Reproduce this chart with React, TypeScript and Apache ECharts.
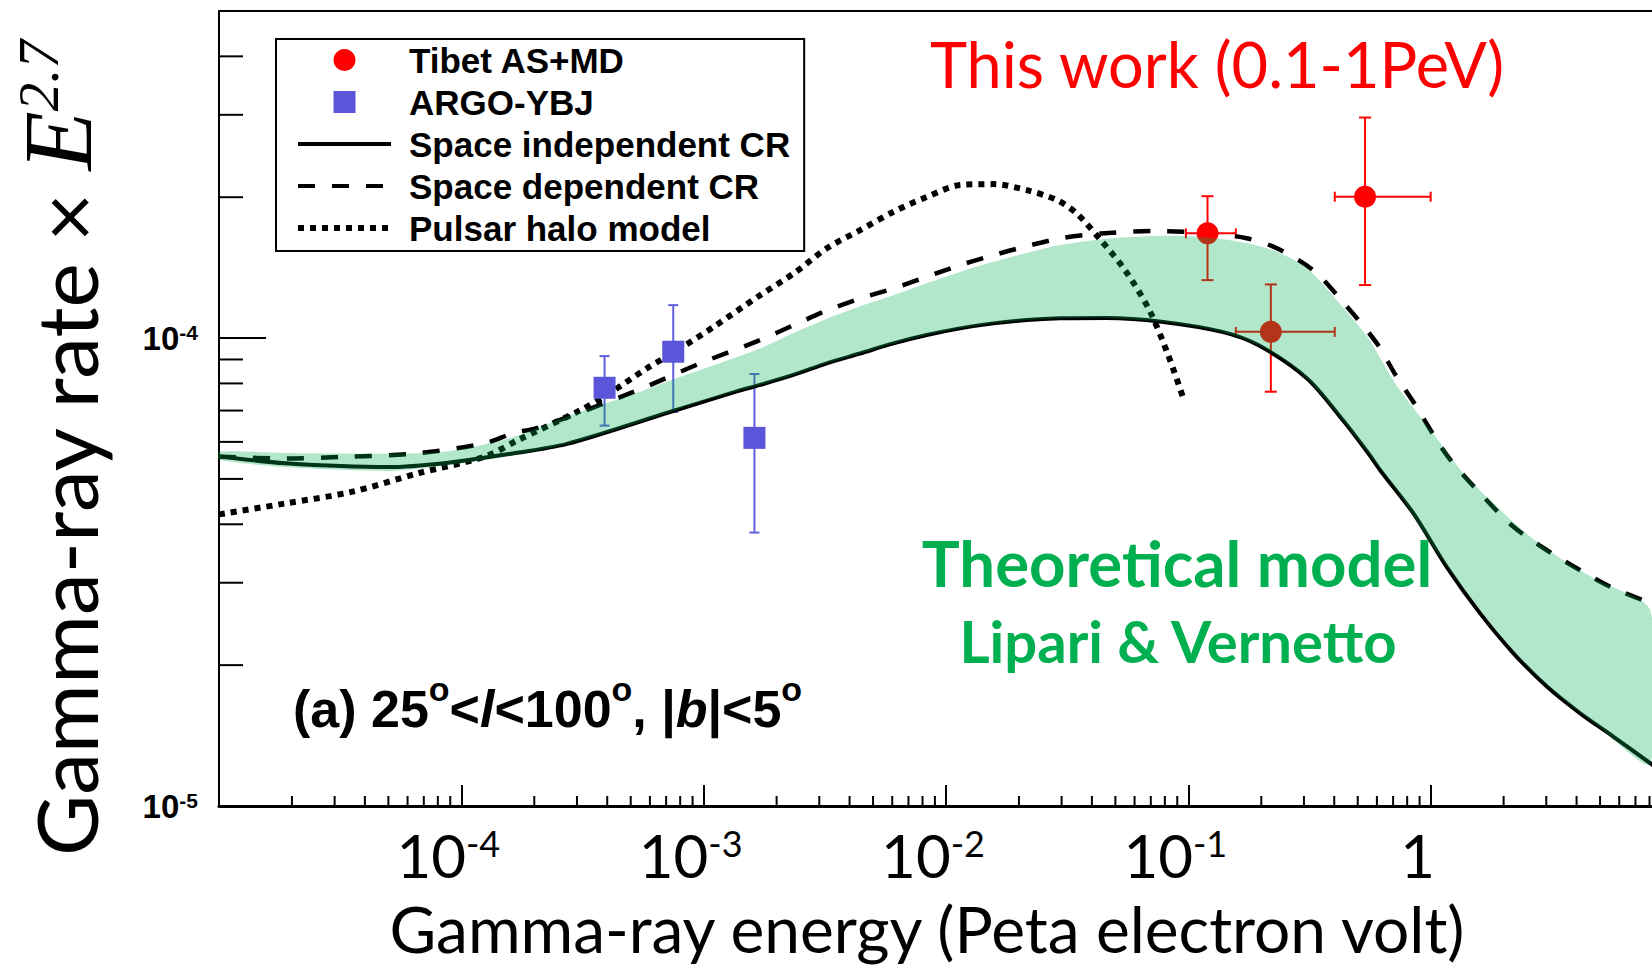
import React, { useEffect, useRef } from "react";
import * as echarts from "echarts";

// ---------------- Axis structure ----------------
const X_MIN = 1e-5;
const X_MAX = 10;
const Y_MIN = 1e-5;
const Y_MAX = 5e-4;
const xTickExponents = [-4, -3, -2, -1, 0];
const yTickExponents = [-5, -4];
const xDecades = [1e-5, 1e-4, 1e-3, 1e-2, 1e-1, 1];
const yDecades = [1e-5, 1e-4];
const minorMultipliers = [2, 3, 4, 5, 6, 7, 8, 9];

// ---------------- Data points ----------------
// Tibet AS+MD (this work)
const tibetE = [0.12, 0.219, 0.536];
const tibetR = [1.674e-4, 1.031e-4, 2.005e-4];
const tibetRLow = [1.33e-4, 7.68e-5, 1.298e-4];
const tibetRHigh = [2.01e-4, 1.302e-4, 2.96e-4];
const tibetELow = [0.0977, 0.157, 0.402];
const tibetEHigh = [0.157, 0.402, 1.0];

// ARGO-YBJ
const argoE = [3.9e-4, 7.49e-4, 1.62e-3];
const argoR = [7.83e-5, 9.35e-5, 6.12e-5];
const argoRLow = [6.5e-5, 6.95e-5, 3.84e-5];
const argoRHigh = [9.15e-5, 1.176e-4, 8.38e-5];

// Space independent CR (solid)
const indepE = [1e-5, 1.88e-5, 5.0e-5, 8.65e-5, 1.57e-4, 2.73e-4, 7.26e-4, 1.38e-3, 1.709e-3, 2.345e-3, 3.221e-3, 4.42e-3, 6.07e-3, 8.33e-3, 1.143e-2, 1.569e-2, 2.155e-2, 2.958e-2, 4.58e-2, 7.73e-2, 0.138, 0.195, 0.309, 0.437, 0.552, 0.619, 0.849, 1.166, 1.6, 2.197, 3.017, 4.14, 5.68, 8.3];
const indepR = [5.59e-5, 5.40e-5, 5.30e-5, 5.41e-5, 5.65e-5, 5.94e-5, 6.95e-5, 7.7e-5, 7.94e-5, 8.34e-5, 8.83e-5, 9.27e-5, 9.74e-5, 1.015e-4, 1.049e-4, 1.075e-4, 1.093e-4, 1.102e-4, 1.104e-4, 1.084e-4, 1.031e-4, 9.65e-5, 8.2e-5, 6.65e-5, 5.68e-5, 5.22e-5, 4.22e-5, 3.24e-5, 2.58e-5, 2.12e-5, 1.80e-5, 1.578e-5, 1.406e-5, 1.22e-5];

// Space dependent CR (dashed)
const depE = [1e-5, 1.88e-5, 3.5e-5, 6.6e-5, 1.25e-4, 1.66e-4, 2.03e-4, 5.16e-4, 9.66e-4, 1.709e-3, 2.345e-3, 3.221e-3, 4.42e-3, 6.07e-3, 8.33e-3, 1.143e-2, 1.569e-2, 2.155e-2, 2.958e-2, 4.36e-2, 7.33e-2, 0.123, 0.174, 0.232, 0.327, 0.437, 0.6, 0.72, 0.849, 1.166, 1.6, 2.197, 3.017, 4.14, 5.68, 8.3];
const depR = [5.58e-5, 5.53e-5, 5.58e-5, 5.67e-5, 5.96e-5, 6.28e-5, 6.41e-5, 7.68e-5, 8.83e-5, 9.9e-5, 1.065e-4, 1.145e-4, 1.215e-4, 1.277e-4, 1.352e-4, 1.432e-4, 1.504e-4, 1.572e-4, 1.633e-4, 1.673e-4, 1.693e-4, 1.675e-4, 1.634e-4, 1.556e-4, 1.397e-4, 1.19e-4, 9.74e-5, 8.3e-5, 7.3e-5, 5.62e-5, 4.66e-5, 3.95e-5, 3.52e-5, 3.19e-5, 2.92e-5, 2.7e-5];

// Pulsar halo model (dotted)
const haloE = [1e-5, 1.87e-5, 3.52e-5, 6.63e-5, 1.25e-4, 1.71e-4, 3.08e-4, 3.9e-4, 5.82e-4, 8.0e-4, 1.1e-3, 1.71e-3, 2.35e-3, 3.22e-3, 4.42e-3, 6.07e-3, 8.33e-3, 1.14e-2, 1.57e-2, 2.16e-2, 2.87e-2, 3.46e-2, 4.36e-2, 5.48e-2, 6.9e-2, 8.21e-2, 9.49e-2];
const haloR = [4.2e-5, 4.43e-5, 4.69e-5, 5.14e-5, 5.58e-5, 6.05e-5, 7.0e-5, 7.5e-5, 8.61e-5, 9.5e-5, 1.057e-4, 1.235e-4, 1.374e-4, 1.555e-4, 1.701e-4, 1.862e-4, 2.003e-4, 2.123e-4, 2.133e-4, 2.07e-4, 1.972e-4, 1.847e-4, 1.618e-4, 1.397e-4, 1.148e-4, 9.27e-5, 7.49e-5];

// Theoretical model band (Lipari & Vernetto)
const bandE = [1e-5, 1.88e-5, 5.0e-5, 8.65e-5, 1.57e-4, 2.73e-4, 5.16e-4, 7.26e-4, 1.0e-3, 1.709e-3, 2.345e-3, 3.221e-3, 4.42e-3, 6.07e-3, 8.33e-3, 1.143e-2, 1.569e-2, 2.155e-2, 2.958e-2, 4.58e-2, 7.73e-2, 0.123, 0.174, 0.232, 0.309, 0.437, 0.552, 0.72, 1.0, 1.366, 1.877, 2.575, 3.53, 4.85, 8.05];
const bandUpper = [5.72e-5, 5.68e-5, 5.66e-5, 5.72e-5, 6.1e-5, 6.8e-5, 7.6e-5, 8.12e-5, 8.6e-5, 9.5e-5, 1.025e-4, 1.1e-4, 1.17e-4, 1.235e-4, 1.31e-4, 1.385e-4, 1.455e-4, 1.52e-4, 1.58e-4, 1.63e-4, 1.655e-4, 1.64e-4, 1.594e-4, 1.529e-4, 1.41e-4, 1.16e-4, 1.0e-4, 7.95e-5, 6.36e-5, 5.14e-5, 4.36e-5, 3.76e-5, 3.35e-5, 3.04e-5, 2.62e-5];
const bandLower = [5.5e-5, 5.3e-5, 5.2e-5, 5.35e-5, 5.6e-5, 5.94e-5, 6.55e-5, 6.95e-5, 7.35e-5, 7.94e-5, 8.34e-5, 8.83e-5, 9.27e-5, 9.74e-5, 1.015e-4, 1.049e-4, 1.075e-4, 1.093e-4, 1.102e-4, 1.104e-4, 1.084e-4, 1.045e-4, 9.9e-5, 9.2e-5, 8.2e-5, 6.65e-5, 5.68e-5, 4.75e-5, 3.65e-5, 2.92e-5, 2.36e-5, 1.96e-5, 1.69e-5, 1.49e-5, 1.233e-5];

const legendNames = ["Tibet AS+MD", "ARGO-YBJ", "Space independent CR", "Space dependent CR", "Pulsar halo model"];

// ---------------- helpers ----------------
const decadeExp = (v: number, allowed: number[]) => {
  const l = Math.log10(v);
  const e = Math.round(l);
  if (Math.abs(l - e) > 0.01) return null;
  return allowed.indexOf(e) >= 0 ? e : null;
};

const xMinor = xDecades.flatMap((d) => minorMultipliers.map((m) => m * d)).filter((v) => v < 8.5);
const yMinor = yDecades.flatMap((d) => minorMultipliers.map((m) => m * d)).filter((v) => v < Y_MAX);

const SANS_BOLD = '"Liberation Sans", Arial, Helvetica, sans-serif';
const CAL = 'Lato, "Open Sans", sans-serif';
const SERIF = '"Liberation Serif", "DejaVu Serif", serif';

const DASHED = [17, 17];
const DOTTED = [6, 6];

function errorBarRenderer(color: string, cap: number, hCap: number) {
  return (params: any, api: any) => {
    const x = api.value(0);
    const y = api.value(1);
    const yl = api.value(2);
    const yh = api.value(3);
    const c = api.coord([x, y]);
    const top = api.coord([x, yh]);
    const bot = api.coord([x, yl]);
    const style = { stroke: color, lineWidth: 2 };
    const children: any[] = [
      { type: "line", shape: { x1: c[0], y1: top[1], x2: c[0], y2: bot[1] }, style },
      { type: "line", shape: { x1: c[0] - cap, y1: top[1], x2: c[0] + cap, y2: top[1] }, style },
      { type: "line", shape: { x1: c[0] - cap, y1: bot[1], x2: c[0] + cap, y2: bot[1] }, style },
    ];
    const xl = api.value(4);
    const xh = api.value(5);
    if (xl > 0 && xh > 0) {
      const l = api.coord([xl, y]);
      const r = api.coord([xh, y]);
      children.push(
        { type: "line", shape: { x1: l[0], y1: c[1], x2: r[0], y2: c[1] }, style },
        { type: "line", shape: { x1: l[0], y1: c[1] - hCap, x2: l[0], y2: c[1] + hCap }, style },
        { type: "line", shape: { x1: r[0], y1: c[1] - hCap, x2: r[0], y2: c[1] + hCap }, style }
      );
    }
    return { type: "group", children };
  };
}

function buildOption() {
  return {
    animation: false,
    backgroundColor: "#ffffff",
    grid: {
      left: 219,
      right: -21,
      top: 11,
      bottom: 162,
      show: true,
      borderColor: "#000",
      borderWidth: 2,
      containLabel: false,
      outerBoundsMode: "none",
    },
    legend: {
      show: true,
      orient: "vertical",
      left: 276,
      top: 39,
      padding: [3.5, 14, 5.5, 19],
      itemGap: 7,
      itemWidth: 93,
      itemHeight: 22,
      borderColor: "#000",
      borderWidth: 2,
      backgroundColor: "#fff",
      selectedMode: false,
      z: 10,
      lineStyle: { width: 4 },
      textStyle: {
        fontFamily: SANS_BOLD,
        fontWeight: "bold",
        fontSize: 35,
        color: "#000",
        padding: [0, 0, 0, 13],
      },
      data: legendNames.map((n, i) => {
        if (i < 2) return { name: n };
        return {
          name: n,
          itemStyle: { opacity: 0, borderWidth: 0 },
          lineStyle: { width: i === 4 ? 6 : 4 },
        };
      }),
    },
    xAxis: {
      type: "log",
      logBase: 10,
      min: X_MIN,
      max: X_MAX,
      axisLine: { show: true, onZero: false, lineStyle: { color: "#000", width: 3 } },
      axisTick: { show: true, inside: true, length: 21, lineStyle: { color: "#000", width: 2 } },
      minorTick: { show: false },
      splitLine: { show: false },
      axisLabel: {
        show: true,
        margin: 19,
        color: "#000",
        hideOverlap: false,
        padding: [0, 26, 0, 0],
        formatter: (v: number) => {
          const e = decadeExp(v, xTickExponents);
          if (e === null) return "";
          if (e === 0) return "{n|1}";
          return `{n|10}{s|${e}}`;
        },
        rich: {
          n: { fontFamily: CAL, fontSize: 60, lineHeight: 60, color: "#000" },
          s: { fontFamily: CAL, fontSize: 36, lineHeight: 40, color: "#000", verticalAlign: "top" },
        },
      },
      name: "Gamma-ray energy (Peta electron volt)",
      nameLocation: "middle",
      nameGap: 90,
      nameMoveOverlap: false,
      nameTextStyle: { fontFamily: CAL, fontSize: 64, lineHeight: 64, color: "#000", padding: [0, 38, 0, 0] },
    },
    yAxis: {
      type: "log",
      logBase: 10,
      min: Y_MIN,
      max: Y_MAX,
      axisLine: { show: true, onZero: false, lineStyle: { color: "#000", width: 2 } },
      axisTick: { show: true, inside: true, length: 47, lineStyle: { color: "#000", width: 2 } },
      minorTick: { show: false },
      splitLine: { show: false },
      axisLabel: {
        show: true,
        margin: 21,
        color: "#000",
        hideOverlap: false,
        formatter: (v: number) => {
          const e = decadeExp(v, yTickExponents);
          if (e === null) return "";
          return `{n|10}{s|${e}}`;
        },
        rich: {
          n: { fontFamily: SANS_BOLD, fontWeight: "bold", fontSize: 33, lineHeight: 33, color: "#000" },
          s: { fontFamily: SANS_BOLD, fontWeight: "bold", fontSize: 21, lineHeight: 20, color: "#000", verticalAlign: "top" },
        },
      },
      name: "{a|Gamma-ray rate × }{e|E}{s|2.7}",
      nameLocation: "middle",
      nameRotate: 90,
      nameGap: 112,
      nameMoveOverlap: false,
      nameTextStyle: {
        color: "#000",
        padding: [0, 80, 0, 0],
        rich: {
          a: { fontFamily: CAL, fontSize: 84, lineHeight: 97, color: "#000", verticalAlign: "bottom" },
          e: { fontFamily: SERIF, fontStyle: "italic", fontSize: 97, lineHeight: 97, color: "#000", verticalAlign: "bottom" },
          s: { fontFamily: SERIF, fontStyle: "italic", fontSize: 57, lineHeight: 57, color: "#000", verticalAlign: "top" },
        },
      },
    },
    series: [
      {
        name: "Tibet AS+MD",
        type: "scatter",
        data: tibetE.map((e, i) => [e, tibetR[i]]),
        symbol: "circle",
        symbolSize: 22,
        itemStyle: { color: "#ff0000", opacity: 1 },
        z: 2,
      },
      {
        name: "ARGO-YBJ",
        type: "scatter",
        data: argoE.map((e, i) => [e, argoR[i]]),
        symbol: "path://M0 0H10V10H0Z",
        symbolSize: 22,
        itemStyle: { color: "#5a55d9", opacity: 1 },
        z: 2,
      },
      {
        name: "Space independent CR",
        type: "line",
        data: indepE.map((e, i) => [e, indepR[i]]),
        symbol: "none",
        smooth: 0.3,
        lineStyle: { color: "#000", width: 4, type: "solid" },
        itemStyle: { color: "#000" },
        z: 2,
      },
      {
        name: "Space dependent CR",
        type: "line",
        data: depE.map((e, i) => [e, depR[i]]),
        symbol: "none",
        smooth: 0.3,
        lineStyle: { color: "#000", width: 4.5, type: DASHED },
        itemStyle: { color: "#000" },
        z: 2,
      },
      {
        name: "Pulsar halo model",
        type: "line",
        data: haloE.map((e, i) => [e, haloR[i]]),
        symbol: "none",
        smooth: 0.3,
        lineStyle: { color: "#000", width: 6, type: DOTTED },
        itemStyle: { color: "#000" },
        z: 2,
      },
      {
        name: "Tibet errors",
        type: "custom",
        silent: true,
        z: 2,
        data: tibetE.map((e, i) => [e, tibetR[i], tibetRLow[i], tibetRHigh[i], tibetELow[i], tibetEHigh[i]]),
        renderItem: errorBarRenderer("#ff0000", 6, 5),
      },
      {
        name: "ARGO errors",
        type: "custom",
        silent: true,
        z: 2,
        data: argoE.map((e, i) => [e, argoR[i], argoRLow[i], argoRHigh[i], 0, 0]),
        renderItem: errorBarRenderer("#5f5fdc", 5, 0),
      },
      {
        name: "Theoretical band",
        type: "custom",
        silent: true,
        z: 3,
        data: [[bandE[0], bandLower[0]]],
        renderItem: (params: any, api: any) => {
          const up = bandE.map((e, i) => api.coord([e, bandUpper[i]]));
          const lo = bandE.map((e, i) => api.coord([e, bandLower[i]])).reverse();
          return {
            type: "polygon",
            shape: { points: up.concat(lo), smooth: 0.25 },
            style: { fill: "rgba(0,175,84,0.3)", stroke: "none" },
          };
        },
      },
      {
        name: "x minor ticks",
        type: "custom",
        silent: true,
        z: 4,
        data: xMinor.map((v) => [v, Y_MIN]),
        renderItem: (params: any, api: any) => {
          const p = api.coord([api.value(0), api.value(1)]);
          return { type: "line", shape: { x1: p[0], y1: p[1], x2: p[0], y2: p[1] - 10 }, style: { stroke: "#000", lineWidth: 2 } };
        },
      },
      {
        name: "y minor ticks",
        type: "custom",
        silent: true,
        z: 4,
        data: yMinor.map((v) => [X_MIN, v]),
        renderItem: (params: any, api: any) => {
          const p = api.coord([api.value(0), api.value(1)]);
          return { type: "line", shape: { x1: p[0], y1: p[1], x2: p[0] + 24, y2: p[1] }, style: { stroke: "#000", lineWidth: 2 } };
        },
      },
    ],
    graphic: [
      {
        type: "text",
        x: 1217,
        y: 63,
        z: 20,
        style: { text: "This work (0.1-1PeV)", fontFamily: CAL, fontSize: 63, fill: "#ff0000", align: "center", verticalAlign: "middle" },
      },
      {
        type: "text",
        x: 1177,
        y: 562,
        z: 20,
        style: { text: "Theoretical model", fontFamily: CAL, fontWeight: "bold", fontSize: 63.5, fill: "#00b050", align: "center", verticalAlign: "middle" },
      },
      {
        type: "text",
        x: 1178,
        y: 640,
        z: 20,
        style: { text: "Lipari & Vernetto", fontFamily: CAL, fontWeight: "bold", fontSize: 58, fill: "#00b050", align: "center", verticalAlign: "middle" },
      },
      {
        type: "text",
        x: 293,
        y: 683,
        z: 20,
        style: {
          text: "{t|(a) 25}{o|o}{t|<}{i|l}{t|<100}{o|o}{t|, |}{i|b}{t||<5}{o|o}",
          align: "left",
          verticalAlign: "top",
          rich: {
            t: { fontFamily: SANS_BOLD, fontWeight: "bold", fontSize: 52, lineHeight: 52, fill: "#000" },
            i: { fontFamily: SANS_BOLD, fontWeight: "bold", fontStyle: "italic", fontSize: 52, lineHeight: 52, fill: "#000" },
            o: { fontFamily: SANS_BOLD, fontWeight: "bold", fontSize: 34, lineHeight: 12, padding: [0, 0, 40, 0], fill: "#000" },
          },
        },
      },
    ],
  };
}

export default function App() {
  const ref = useRef<HTMLDivElement>(null);
  useEffect(() => {
    if (!ref.current) return;
    const chart = echarts.init(ref.current, null, { renderer: "svg" });
    chart.setOption(buildOption() as any);
    return () => {
      chart.dispose();
    };
  }, []);
  return (
    <div
      ref={ref}
      style={{ position: "fixed", left: 0, top: 0, width: 1652, height: 968, background: "#fff" }}
    />
  );
}
